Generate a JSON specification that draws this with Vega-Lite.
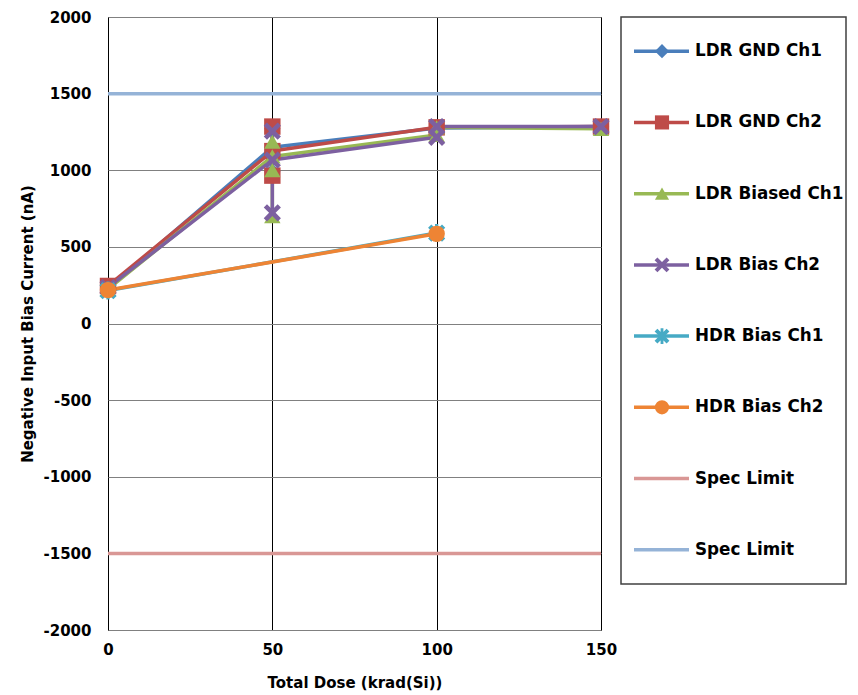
{
  "$schema": "https://vega.github.io/schema/vega-lite/v6.json",
  "background": "white",
  "padding": {"left": 19, "top": 9, "right": 0, "bottom": 0},
  "bounds": "flush",
  "spacing": 20,
  "config": {
    "font": "DejaVu Sans",
    "axis": {
      "labelFont": "DejaVu Sans", "labelFontWeight": "bold", "labelFontSize": 15, "labelColor": "black",
      "titleFont": "DejaVu Sans", "titleFontWeight": "bold", "titleFontSize": 15, "titleColor": "black",
      "domain": false, "ticks": false, "labelFlush": false, "labelOverlap": false
    }
  },
  "datasets": {
    "series": [
      {"series": "LDR GND Ch1", "dose": 0, "value": 230, "step": 1, "marker": true},
      {"series": "LDR GND Ch1", "dose": 50, "value": 1150, "step": 2, "marker": true},
      {"series": "LDR GND Ch1", "dose": 50, "value": 990, "step": 3, "marker": true},
      {"series": "LDR GND Ch1", "dose": 50, "value": 1270, "step": 4, "marker": true},
      {"series": "LDR GND Ch1", "dose": 50, "value": 1150, "step": 5, "marker": false},
      {"series": "LDR GND Ch1", "dose": 100, "value": 1275, "step": 6, "marker": true},
      {"series": "LDR GND Ch1", "dose": 150, "value": 1285, "step": 7, "marker": true},
      {"series": "LDR GND Ch2", "dose": 0, "value": 245, "step": 1, "marker": true},
      {"series": "LDR GND Ch2", "dose": 50, "value": 1125, "step": 2, "marker": true},
      {"series": "LDR GND Ch2", "dose": 50, "value": 965, "step": 3, "marker": true},
      {"series": "LDR GND Ch2", "dose": 50, "value": 1285, "step": 4, "marker": true},
      {"series": "LDR GND Ch2", "dose": 50, "value": 1125, "step": 5, "marker": false},
      {"series": "LDR GND Ch2", "dose": 100, "value": 1280, "step": 6, "marker": true},
      {"series": "LDR GND Ch2", "dose": 150, "value": 1285, "step": 7, "marker": true},
      {"series": "LDR Biased Ch1", "dose": 0, "value": 225, "step": 1, "marker": true},
      {"series": "LDR Biased Ch1", "dose": 50, "value": 1090, "step": 2, "marker": true},
      {"series": "LDR Biased Ch1", "dose": 50, "value": 1001, "step": 3, "marker": true},
      {"series": "LDR Biased Ch1", "dose": 50, "value": 700, "step": 4, "marker": true},
      {"series": "LDR Biased Ch1", "dose": 50, "value": 1186, "step": 5, "marker": true},
      {"series": "LDR Biased Ch1", "dose": 50, "value": 1090, "step": 6, "marker": false},
      {"series": "LDR Biased Ch1", "dose": 100, "value": 1230, "step": 7, "marker": true},
      {"series": "LDR Biased Ch1", "dose": 100, "value": 1280, "step": 8, "marker": true},
      {"series": "LDR Biased Ch1", "dose": 150, "value": 1270, "step": 9, "marker": true},
      {"series": "LDR Bias Ch2", "dose": 0, "value": 235, "step": 1, "marker": true},
      {"series": "LDR Bias Ch2", "dose": 50, "value": 1067, "step": 2, "marker": true},
      {"series": "LDR Bias Ch2", "dose": 50, "value": 722, "step": 3, "marker": true},
      {"series": "LDR Bias Ch2", "dose": 50, "value": 1255, "step": 4, "marker": true},
      {"series": "LDR Bias Ch2", "dose": 50, "value": 1067, "step": 5, "marker": false},
      {"series": "LDR Bias Ch2", "dose": 100, "value": 1215, "step": 6, "marker": true},
      {"series": "LDR Bias Ch2", "dose": 100, "value": 1285, "step": 7, "marker": true},
      {"series": "LDR Bias Ch2", "dose": 150, "value": 1285, "step": 8, "marker": true},
      {"series": "HDR Bias Ch1", "dose": 0, "value": 215, "step": 1, "marker": true},
      {"series": "HDR Bias Ch1", "dose": 100, "value": 590, "step": 2, "marker": true},
      {"series": "HDR Bias Ch2", "dose": 0, "value": 218, "step": 1, "marker": true},
      {"series": "HDR Bias Ch2", "dose": 100, "value": 585, "step": 2, "marker": true},
      {"series": "Spec Limit Low", "dose": 0, "value": -1500, "step": 1, "marker": false},
      {"series": "Spec Limit Low", "dose": 150, "value": -1500, "step": 2, "marker": false},
      {"series": "Spec Limit High", "dose": 0, "value": 1500, "step": 1, "marker": false},
      {"series": "Spec Limit High", "dose": 150, "value": 1500, "step": 2, "marker": false}
    ],
    "legend": [
      {"series": "LDR GND Ch1", "label": "LDR GND Ch1", "marker": true},
      {"series": "LDR GND Ch2", "label": "LDR GND Ch2", "marker": true},
      {"series": "LDR Biased Ch1", "label": "LDR Biased Ch1", "marker": true},
      {"series": "LDR Bias Ch2", "label": "LDR Bias Ch2", "marker": true},
      {"series": "HDR Bias Ch1", "label": "HDR Bias Ch1", "marker": true},
      {"series": "HDR Bias Ch2", "label": "HDR Bias Ch2", "marker": true},
      {"series": "Spec Limit Low", "label": "Spec Limit", "marker": false},
      {"series": "Spec Limit High", "label": "Spec Limit", "marker": false}
    ]
  },
  "hconcat": [
    {
      "width": 493,
      "height": 613,
      "view": {"stroke": "black", "strokeWidth": 1},
      "data": {"name": "series"},
      "encoding": {
        "x": {"field": "dose", "type": "quantitative", "scale": {"domain": [0, 150], "nice": false},
              "axis": {"title": "Total Dose (krad(Si))", "values": [0, 50, 100, 150], "labelExpr": "'' + datum.value", "grid": true, "gridColor": "black", "gridOpacity": 1, "labelPadding": 12, "titlePadding": 18}},
        "y": {"field": "value", "type": "quantitative", "scale": {"domain": [-2000, 2000], "nice": false},
              "axis": {"title": "Negative Input Bias Current (nA)", "values": [-2000, -1500, -1000, -500, 0, 500, 1000, 1500, 2000], "labelExpr": "'' + datum.value", "grid": true, "gridColor": "#808080", "gridOpacity": 1, "labelPadding": 17, "titlePadding": 8}},
        "color": {"field": "series", "type": "nominal", "legend": null,
                  "scale": {"domain": ["LDR GND Ch1", "LDR GND Ch2", "LDR Biased Ch1", "LDR Bias Ch2", "HDR Bias Ch1", "HDR Bias Ch2", "Spec Limit Low", "Spec Limit High"],
                            "range": ["#4A7EBB", "#BE4B48", "#98B954", "#7D60A0", "#46AAC5", "#EE8434", "#D99795", "#95B3D7"]}}
      },
      "layer": [
        {
          "mark": {"type": "line", "strokeWidth": 3.5},
          "encoding": {"order": {"field": "step", "type": "quantitative"}, "detail": {"field": "series", "type": "nominal"}}
        },
        {
          "transform": [{"filter": "datum.marker"}],
          "mark": {"type": "point", "filled": true, "opacity": 1, "size": 270, "strokeWidth": 0},
          "encoding": {
            "shape": {"field": "series", "type": "nominal", "legend": null,
                      "scale": {"domain": ["LDR GND Ch1", "LDR GND Ch2", "LDR Biased Ch1", "LDR Bias Ch2", "HDR Bias Ch1", "HDR Bias Ch2"],
                                "range": ["diamond", "square", "triangle-up", "M0.65,-1.046L1.046,-0.65L0.396,0L1.046,0.65L0.65,1.046L0,0.396L-0.65,1.046L-1.046,0.65L-0.396,0L-1.046,-0.65L-0.65,-1.046L0,-0.396Z", "M0.65,-1.046L1.046,-0.65L0.396,0L1.046,0.65L0.65,1.046L0,0.396L-0.65,1.046L-1.046,0.65L-0.396,0L-1.046,-0.65L-0.65,-1.046L0,-0.396ZM-0.2,-1.1L0.2,-1.1L0.2,1.1L-0.2,1.1Z", "circle"]}}
          }
        }
      ]
    },
    {
      "width": 225,
      "height": 567,
      "view": {"stroke": "#404040", "strokeWidth": 1.5},
      "data": {"name": "legend"},
      "encoding": {
        "y": {"field": "series", "type": "nominal", "axis": null,
              "scale": {"type": "point", "padding": 0.48, "domain": ["LDR GND Ch1", "LDR GND Ch2", "LDR Biased Ch1", "LDR Bias Ch2", "HDR Bias Ch1", "HDR Bias Ch2", "Spec Limit Low", "Spec Limit High"]}},
        "color": {"field": "series", "type": "nominal", "legend": null,
                  "scale": {"domain": ["LDR GND Ch1", "LDR GND Ch2", "LDR Biased Ch1", "LDR Bias Ch2", "HDR Bias Ch1", "HDR Bias Ch2", "Spec Limit Low", "Spec Limit High"],
                            "range": ["#4A7EBB", "#BE4B48", "#98B954", "#7D60A0", "#46AAC5", "#EE8434", "#D99795", "#95B3D7"]}}
      },
      "layer": [
        {
          "mark": {"type": "rule", "strokeWidth": 3.5},
          "encoding": {
            "x": {"datum": 13, "type": "quantitative", "scale": {"domain": [0, 225], "nice": false}, "axis": null},
            "x2": {"datum": 68}
          }
        },
        {
          "transform": [{"filter": "datum.marker"}],
          "mark": {"type": "point", "filled": true, "opacity": 1, "size": 200, "strokeWidth": 0},
          "encoding": {
            "x": {"datum": 41, "type": "quantitative"},
            "shape": {"field": "series", "type": "nominal", "legend": null,
                      "scale": {"domain": ["LDR GND Ch1", "LDR GND Ch2", "LDR Biased Ch1", "LDR Bias Ch2", "HDR Bias Ch1", "HDR Bias Ch2"],
                                "range": ["diamond", "square", "triangle-up", "M0.65,-1.046L1.046,-0.65L0.396,0L1.046,0.65L0.65,1.046L0,0.396L-0.65,1.046L-1.046,0.65L-0.396,0L-1.046,-0.65L-0.65,-1.046L0,-0.396Z", "M0.65,-1.046L1.046,-0.65L0.396,0L1.046,0.65L0.65,1.046L0,0.396L-0.65,1.046L-1.046,0.65L-0.396,0L-1.046,-0.65L-0.65,-1.046L0,-0.396ZM-0.2,-1.1L0.2,-1.1L0.2,1.1L-0.2,1.1Z", "circle"]}}
          }
        },
        {
          "mark": {"type": "text", "align": "left", "baseline": "middle", "font": "DejaVu Sans", "fontSize": 16.8, "fontWeight": "bold"},
          "encoding": {
            "x": {"datum": 74, "type": "quantitative"},
            "text": {"field": "label", "type": "nominal"},
            "color": {"value": "black"}
          }
        }
      ]
    }
  ]
}
